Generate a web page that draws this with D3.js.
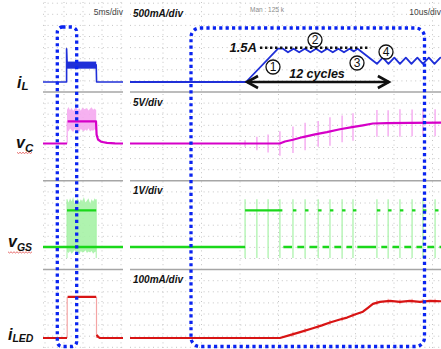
<!DOCTYPE html>
<html>
<head>
<meta charset="utf-8">
<script src="https://cdn.jsdelivr.net/npm/d3@7"></script>
<style>
  html, body { margin: 0; padding: 0; background: #fff; }
  svg { display: block; }
  .lbl { font-family: "Liberation Sans", Arial, sans-serif; font-weight: bold; font-style: italic; fill: #111; }
</style>
</head>
<body>
<svg id="scope" width="441" height="349"></svg>
<script>
// ---------- timebases ----------
// left pane: burst view, ms ; right pane: zoomed start-up, us
const slowSpan = [0, 40];
const fastSpan = [0, 100];
const burst = [12, 26.6];             // ms, gate burst in the slow view

// null entries split a trace where the scope edge is too fast to leave a solid line

// ---------- channel 1: inductor current iL (A) ----------
const ilSlow = [[0,0],[11.8,0],[11.8,1.5],[12.1,0.77],[26.6,0.77],[26.8,0],[40,0]];
const ilSlowRipple = [0.6, 0.92];      // ripple envelope during the burst
const ilFast = [
  [0,0],[37.3,0],[47.6,1.5],[49.2,1.5],[50.8,1.34],[52.6,1.5],[54.4,1.34],[56.2,1.5],
  [58.0,1.34],[59.8,1.5],[61.6,1.34],[63.4,1.5],[65.2,1.34],[67.0,1.5],[68.8,1.34],
  [70.6,1.5],[72.0,1.38],[73.2,1.5],[79.4,0.82],[81.3,1.1],[83.1,0.82],[85.0,1.1],
  [86.8,0.82],[88.7,1.1],[90.5,0.82],[92.4,1.1],[94.2,0.82],[96.1,1.1],[97.9,0.82],
  [99.8,1.1],[100,1.07]
];
const ilLimit = 1.5;                  // A, peak threshold
const ilLimitSpan = [41.8, 77.2];     // us, extent of the threshold marker
const cycleSpan = [37.3, 82.6];       // us, the "12 cycles" interval

// ---------- channel 2: capacitor voltage vC (V) ----------
const vcSlow = [[0,0],[12,0],null,[12.3,10],[26.5,10],[26.8,4],[27.5,1.8],[29,0.8],[32,0.3],[36,0.1],[40,0]];
const vcSlowNoiseHi = [15.2,16.4,15.0,16.1,14.6,15.8,16.3,15.1,15.9,14.8,16.2,15.4,15.7,16.0,14.9,15.6,16.3,15.2,15.8,15.0];
const vcSlowNoiseLo = [6.2,5.4,6.8,5.9,5.2,6.5,5.7,6.1,5.3,6.6,5.8,5.5,6.3,5.6,6.9,5.4,6.0,5.7,6.4,5.9];
const vcFast = [
  [0,0],[48.2,0],[49.8,0.9],[52.4,1.7],[55.6,2.9],[59.5,4.1],[63.3,5.1],[67.5,6.4],
  [71.4,7.4],[74.9,8.2],[78.1,9.0],[82.6,9.2],[90,9.3],[100,9.4]
];

// ---------- channel 3: gate drive vGS (V) ----------
const gsHigh = 3.3;
const gsSlowNoiseHi = [4.3,4.0,4.4,4.1,4.5,3.9,4.2,4.4,4.0,4.3,4.1,4.5,4.0,4.2,4.4,3.9,4.3,4.1,4.4,4.2];
const gsSlowNoiseLo = [-0.4,-0.55,-0.35,-0.6,-0.45,-0.3,-0.5,-0.4,-0.65,-0.35,-0.5,-0.45,-0.3,-0.55,-0.4,-0.5,-0.35,-0.6,-0.45,-0.4];
const gsOnStretch = [37.0, 49.0];     // us, switch held on while iL ramps
const gsPulses = [52.4,56.3,60.5,64.3,68.2,71.7,79.4,83.0,86.8,90.7,94.2,98.1];
const gsPulseWidth = 1.1;             // us
const swEdges = [37.0,40.8,44.4,48.2,52.4,56.3,60.5,64.3,68.2,71.7,79.4,83.0,86.8,90.7,94.2,98.1];
const gsRing = [-1.0, 4.3];           // V, ringing extent at each edge
const vcSpike = [1.5,3,4,5.5,6,6.2,5.8,6.4,6,6.2,6,5.8,6.2,6,5.9,6.1]; // V, half-height at each edge

// ---------- channel 4: LED current iLED (mA) ----------
const ledSlow = [[0,0],[12,0],null,[12.3,370],[26.6,370],null,[26.9,30],[27.5,10],[28.5,0],[40,0]];
const ledSlowLevel = 370;
const ledFast = [
  [0,0],[48.2,0],[51.4,26],[54.7,53],[58.8,88],[61.7,114],[64.3,140],[67.5,167],
  [69.8,184],[72.3,211],[74.9,237],[76.5,272],[78.1,307],[80.4,325],[83.6,334],
  [86.8,325],[90.0,334],[93.2,326],[96.5,334],[100,331]
];

// ---------- labels ----------
const channelNames = [["i","L"],["v","C"],["v","GS"],["i","LED"]];
const scaleTexts = ["500mA/div","5V/div","1V/div","100mA/div"];
const stepLabels = ["1","2","3","4"];

// ---------- scales ----------
const DIV = 11.1;
const xS = d3.scaleLinear().domain(slowSpan).range([43, 123]);
const xF = d3.scaleLinear().domain(fastSpan).range([130, 441]);
const yIL  = d3.scaleLinear().domain([0, 0.5]).range([82, 82 - DIV]);
const yVC  = d3.scaleLinear().domain([0, 5]).range([143.5, 143.5 - DIV]);
const yGS  = d3.scaleLinear().domain([0, 1]).range([247, 247 - DIV]);
const yLED = d3.scaleLinear().domain([0, 100]).range([338, 338 - DIV]);

const col = {
  il: "#1f2fd8", vc: "#d600c8", vcLight: "#f5a8f0",
  gs: "#1ad81a", gsLight: "#a6f2a6", led: "#d81414", ledLight: "#f4a4a4",
  box: "#0a24f0", grid: "#c4c4c4", sep: "#a6a6a6"
};

const svg = d3.select("#scope");
svg.append("rect").attr("width", 441).attr("height", 349).attr("fill", "#fff");

// ---------- graticule ----------
const grid = svg.append("g");
const panes = [[43, 123], [130, 441]];
for (let k = -8; k <= 23; k++) {
  if (k === 0 || k === 8 || k === 16) continue;
  const y = 92 + k * DIV;
  panes.forEach(([a, b]) => grid.append("line")
    .attr("x1", a).attr("x2", b).attr("y1", y).attr("y2", y)
    .attr("stroke", col.grid).attr("stroke-width", 1).attr("stroke-dasharray", "1,3.6"));
}
const gridCols = [45, 64, 83, 102, 121].concat(d3.range(8).map(i => 163 + 38.5 * i));
gridCols.forEach(x => grid.append("line")
  .attr("x1", x).attr("x2", x).attr("y1", 2).attr("y2", 349)
  .attr("stroke", col.grid).attr("stroke-width", 1).attr("stroke-dasharray", "1,3.6"));
[92, 92 + 8 * DIV, 92 + 16 * DIV].forEach(y => panes.forEach(([a, b]) =>
  grid.append("line").attr("x1", a).attr("x2", b).attr("y1", y).attr("y2", y)
    .attr("stroke", col.sep).attr("stroke-width", 1.5)));

// ---------- helpers ----------
const lineOf = (xs, ys) => d3.line().defined(d => d !== null).x(d => xs(d[0])).y(d => ys(d[1]));
function trace(data, xs, ys, color, w) {
  svg.append("path").attr("d", lineOf(xs, ys)(data))
    .attr("fill", "none").attr("stroke", color).attr("stroke-width", w)
    .attr("stroke-linejoin", "round");
}
function noiseBand(hi, lo, ys, color) {
  const n = hi.length;
  const t = d3.range(n).map(i => burst[0] + (burst[1] - burst[0]) * i / (n - 1));
  const area = d3.area().x((d, i) => xS(t[i])).y0((d, i) => ys(lo[i])).y1(d => ys(d));
  svg.append("path").attr("d", area(hi)).attr("fill", color).attr("opacity", 0.9);
}
function edgeLines(times, lo, hi, xs, ys, color, w) {
  times.forEach(t => svg.append("line")
    .attr("x1", xs(t)).attr("x2", xs(t)).attr("y1", ys(lo)).attr("y2", ys(hi))
    .attr("stroke", color).attr("stroke-width", w));
}
const interp = data => d3.scaleLinear().domain(data.map(d => d[0])).range(data.map(d => d[1]));

// ---------- iL ----------
svg.append("rect").attr("x", xS(burst[0])).attr("width", xS(burst[1]) - xS(burst[0]))
  .attr("y", yIL(ilSlowRipple[1])).attr("height", yIL(ilSlowRipple[0]) - yIL(ilSlowRipple[1]))
  .attr("fill", col.il);
trace(ilSlow, xS, yIL, col.il, 1.6);
trace(ilFast, xF, yIL, col.il, 1.8);

// ---------- vC ----------
noiseBand(vcSlowNoiseHi, vcSlowNoiseLo, yVC, col.vcLight);
edgeLines([burst[0] + 0.1], 0, 10, xS, yVC, col.vcLight, 1.2);
const vcAt = interp(vcFast);
swEdges.forEach((t, i) => svg.append("line").attr("x1", xF(t)).attr("x2", xF(t))
  .attr("y1", yVC(vcAt(t) - vcSpike[i])).attr("y2", yVC(vcAt(t) + vcSpike[i]))
  .attr("stroke", col.vcLight).attr("stroke-width", 1.4));
trace(vcSlow, xS, yVC, col.vc, 2.2);
trace(vcFast, xF, yVC, col.vc, 2.2);

// ---------- vGS ----------
noiseBand(gsSlowNoiseHi, gsSlowNoiseLo, yGS, col.gsLight);
edgeLines(burst, gsRing[0], gsRing[1], xS, yGS, col.gsLight, 1);
edgeLines(swEdges, gsRing[0], gsRing[1], xF, yGS, col.gsLight, 1.2);
// slow view: both rails stay lit through the burst
const gsSlow = [[0,0],[40,0],null,[burst[0],gsHigh],[burst[1],gsHigh]];
trace(gsSlow, xS, yGS, col.gs, 2.4);
// fast view: separate high / low plateaus
const gsFast = [[0,0],[gsOnStretch[0],0],null,[gsOnStretch[0],gsHigh],[gsOnStretch[1],gsHigh],null,[gsOnStretch[1] + 0.3,0]];
gsPulses.forEach(p => gsFast.push([p - 0.3,0],null,[p,gsHigh],[p + gsPulseWidth,gsHigh],null,[p + gsPulseWidth + 0.3,0]));
gsFast.push([100,0]);
trace(gsFast, xF, yGS, col.gs, 2.4);

// ---------- iLED ----------
edgeLines([burst[0] + 0.1, burst[1] + 0.15], 0, ledSlowLevel, xS, yLED, col.ledLight, 1.2);
const ledAt = interp(ledFast);
swEdges.slice(4).forEach(t => svg.append("line").attr("x1", xF(t)).attr("x2", xF(t))
  .attr("y1", yLED(ledAt(t) - 22)).attr("y2", yLED(ledAt(t) + 22))
  .attr("stroke", col.ledLight).attr("stroke-width", 1.2));
trace(ledSlow, xS, yLED, col.led, 2.2);
trace(ledFast, xF, yLED, col.led, 2.2);

// ---------- annotations on iL ----------
const ann = svg.append("g");
ann.append("line").attr("x1", xF(ilLimitSpan[0])).attr("x2", xF(ilLimitSpan[1]))
  .attr("y1", yIL(ilLimit) - 1).attr("y2", yIL(ilLimit) - 1)
  .attr("stroke", "#111").attr("stroke-width", 2.4).attr("stroke-dasharray", "2.4,2.6");
ann.append("text").attr("class", "lbl").attr("x", xF(ilLimitSpan[0]) - 3).attr("y", yIL(ilLimit) + 3.5)
  .attr("text-anchor", "end").attr("font-size", 13).text(ilLimit + "A");

const ay = yIL(0);
const ax0 = xF(cycleSpan[0]) + 1, ax1 = xF(cycleSpan[1]) + 2;
ann.append("line").attr("x1", ax0).attr("x2", ax1).attr("y1", ay).attr("y2", ay)
  .attr("stroke", "#111").attr("stroke-width", 2.6);
ann.append("path").attr("d", `M${ax0 + 11},${ay - 6}L${ax0},${ay}L${ax0 + 11},${ay + 6}`)
  .attr("fill", "none").attr("stroke", "#111").attr("stroke-width", 2.6);
ann.append("path").attr("d", `M${ax1 - 11},${ay - 6}L${ax1},${ay}L${ax1 - 11},${ay + 6}`)
  .attr("fill", "none").attr("stroke", "#111").attr("stroke-width", 2.6);
ann.append("text").attr("class", "lbl").attr("x", 317).attr("y", 77.5)
  .attr("text-anchor", "middle").attr("font-size", 12.5).text("12 cycles");

const stepPos = [[273, 67], [315, 40], [357, 63], [386, 52]];
stepPos.forEach(([cx, cy], i) => {
  ann.append("circle").attr("cx", cx).attr("cy", cy).attr("r", 7)
    .attr("fill", "#fff").attr("stroke", "#111").attr("stroke-width", 1.3);
  ann.append("text").attr("x", cx).attr("y", cy + 4.3).attr("text-anchor", "middle")
    .attr("font-family", "Liberation Sans, Arial, sans-serif").attr("font-size", 12)
    .attr("fill", "#111").text(stepLabels[i]);
});

// ---------- channel names ----------
const namePos = [[17, 88, 2], [16, 147.5, 4.5], [8, 246.7, 4], [8, 340, 2]];
channelNames.forEach(([m, s], i) => {
  const t = svg.append("text").attr("class", "lbl").attr("x", namePos[i][0]).attr("y", namePos[i][1])
    .attr("font-size", 16);
  t.append("tspan").text(m);
  t.append("tspan").attr("dy", namePos[i][2]).attr("font-size", s.length > 1 ? 10.5 : 11.5).text(s);
});
// spell-check squiggles under the vC / vGS names
[[17, 33, 152.5], [8, 33, 252]].forEach(([a, b, y]) => {
  const pts = d3.range(a, b + 0.1, 1.5).map((x, i) => [x, y + (i % 2 ? 1 : -0.2)]);
  svg.append("path").attr("d", d3.line()(pts)).attr("fill", "none")
    .attr("stroke", "#e04848").attr("stroke-width", 0.8);
});

// ---------- per-channel scale texts ----------
const scaleY = [17, 106, 193.5, 283];
scaleTexts.forEach((s, i) => svg.append("text").attr("class", "lbl").attr("x", 133).attr("y", scaleY[i])
  .attr("font-size", 10).text(s));
const hdr = "'Liberation Sans Narrow', 'Liberation Sans', Arial, sans-serif";
svg.append("text").attr("x", 123).attr("y", 15).attr("text-anchor", "end")
  .attr("font-family", hdr).attr("font-size", 8.5).attr("fill", "#444").text("5ms/div");
svg.append("text").attr("x", 441).attr("y", 15).attr("text-anchor", "end")
  .attr("font-family", hdr).attr("font-size", 8.5).attr("fill", "#444").text("10us/div");
svg.append("text").attr("x", 250).attr("y", 12)
  .attr("font-family", hdr).attr("font-size", 6.5).attr("fill", "#8a8a8a").text("Man : 125 k");

// ---------- highlight boxes ----------
const boxes = [[57.3, 27, 76.7, 346.5, 5], [191, 28, 424.5, 346.5, 9]];
boxes.forEach(([x0, y0, x1, y1, r]) => svg.append("rect")
  .attr("x", x0).attr("y", y0).attr("width", x1 - x0).attr("height", y1 - y0)
  .attr("rx", r).attr("ry", r).attr("fill", "none")
  .attr("stroke", col.box).attr("stroke-width", 3.3).attr("stroke-dasharray", "3.2,3.2"));
</script>
</body>
</html>
